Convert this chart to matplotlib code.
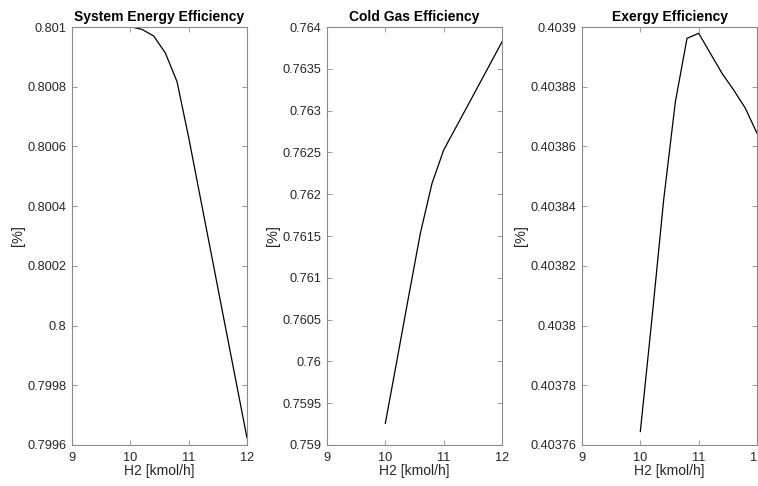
import numpy as np
import matplotlib
matplotlib.use("Agg")
import matplotlib.pyplot as plt

# H2 feed rate sweep [kmol/h]
h2 = [10.0, 10.2, 10.4, 10.6, 10.8, 11.0, 11.2, 11.4, 11.6, 11.8, 12.0]

sys_eff = [0.801001, 0.800992, 0.800970, 0.800913, 0.800817, 0.800630,
           0.800428, 0.800227, 0.800025, 0.799824, 0.799623]
cold_gas_eff = [0.759260, 0.760017, 0.760780, 0.761532, 0.762130, 0.762529,
                0.762787, 0.763045, 0.763304, 0.763563, 0.763824]
exergy_eff = [0.4037645, 0.4038025, 0.4038421, 0.4038749, 0.4038962, 0.4038979,
              0.4038912, 0.4038845, 0.4038789, 0.4038728, 0.4038644]

titles = ["System Energy Efficiency", "Cold Gas Efficiency", "Exergy Efficiency"]
series = [sys_eff, cold_gas_eff, exergy_eff]
ylims = [(0.7996, 0.801), (0.759, 0.764), (0.40376, 0.4039)]
ysteps = [0.0002, 0.0005, 0.00002]

plt.rcParams['font.family'] = ['Liberation Sans', 'DejaVu Sans']
text_col = '#262626'
axis_col = '#8a8a8a'

fig = plt.figure(figsize=(7.58, 4.86), dpi=100)
lefts = [0.095, 0.4314, 0.7678]

for i in range(3):
    ax = fig.add_axes([lefts[i], 0.0844, 0.2309, 0.860])
    ax.plot(h2, series[i], color='black', lw=0.9)
    ax.set_xlim(9, 12)
    ax.set_ylim(*ylims[i])
    lo, hi = ylims[i]
    n = int(round((hi - lo) / ysteps[i]))
    yt = [lo + k * ysteps[i] for k in range(n + 1)]
    ax.set_yticks(yt)
    ax.set_yticklabels(['%g' % round(v, 6) for v in yt])
    ax.set_xticks([9, 10, 11, 12])
    ax.set_xticklabels(['9', '10', '11', '12'])
    ax.tick_params(direction='in', length=3.5, width=0.6, color=axis_col,
                   labelcolor=text_col, labelsize=9.2, top=True, right=True)
    ax.tick_params(axis='x', pad=5)
    ax.tick_params(axis='y', pad=4)
    for s in ax.spines.values():
        s.set_color(axis_col)
        s.set_linewidth(0.8)
    ax.set_title(titles[i], fontsize=10, fontweight='bold', color='black', pad=4)
    ax.set_xlabel('H2 [kmol/h]', fontsize=10, color=text_col, labelpad=0)
    ax.set_ylabel('[%]', fontsize=10.5, color=text_col, labelpad=2)

fig.savefig('out.png', dpi=100)
